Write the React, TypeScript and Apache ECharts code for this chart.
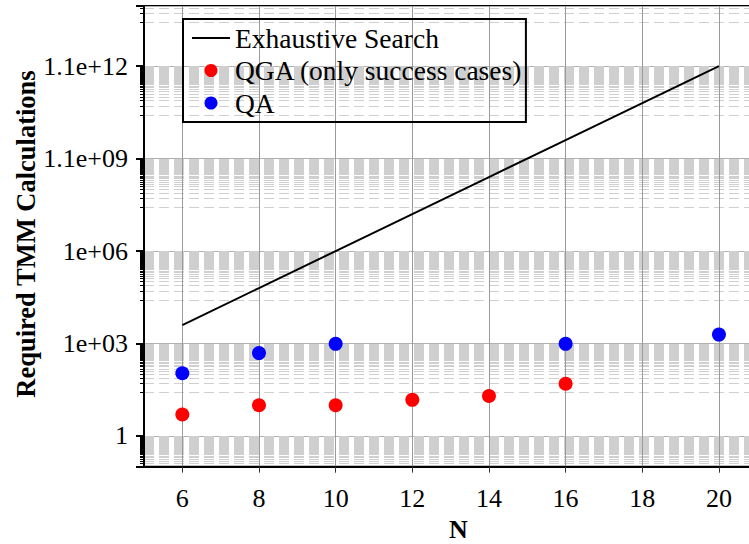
import React, { useEffect, useRef } from "react";
import * as echarts from "echarts";

// ---- data ----
const exhaustiveN = [6, 8, 10, 12, 14, 16, 18, 20];
const exhaustiveValues = [
  4096, 65536, 1048576, 16777216, 268435456, 4294967296, 68719476736,
  1099511627776,
];
const qgaN = [6, 8, 10, 12, 14, 16];
const qgaValues = [5, 10, 10, 15, 20, 50];
const qaN = [6, 8, 10, 16, 20];
const qaValues = [110, 500, 1000, 1000, 2000];

const seriesNames = ["Exhaustive Search", "QGA (only success cases)", "QA"];
const xAxisName = "N";
const yAxisName = "Required TMM Calculations";

const FONT = "Liberation Serif";

function formatG2(v: number): string {
  if (v === 0) return "0";
  let e = Math.floor(Math.log10(Math.abs(v)) + 1e-9);
  if (e < -4 || e >= 2) {
    let ms = (v / Math.pow(10, e)).toFixed(1);
    if (parseFloat(ms) >= 10) {
      e += 1;
      ms = (v / Math.pow(10, e)).toFixed(1);
    }
    ms = ms.replace(/\.0$/, "");
    const es = (e < 0 ? "-" : "+") + String(Math.abs(e)).padStart(2, "0");
    return ms + "e" + es;
  }
  return String(parseFloat(v.toPrecision(2)));
}

export default function App() {
  const ref = useRef<HTMLDivElement>(null);

  useEffect(() => {
    document.body.style.margin = "0";
    if (!ref.current) return;
    const chart = echarts.init(ref.current, undefined, { renderer: "svg" });
    const zip = (xs: number[], ys: number[]) => xs.map((x, i) => [x, ys[i]]);

    chart.setOption({
      animation: false,
      backgroundColor: "#ffffff",
      textStyle: { fontFamily: FONT },
      grid: {
        left: 144,
        top: 6,
        width: 628.6,
        height: 460.7,
        show: true,
        borderColor: "#000000",
        borderWidth: 2,
        containLabel: false,
        outerBoundsMode: "none",
      },
      graphic: [
        {
          type: "text",
          x: 26,
          y: 234,
          rotation: Math.PI / 2,
          style: {
            text: yAxisName,
            fontFamily: FONT,
            fontSize: 26.5,
            fontWeight: "bold",
            fill: "#000000",
            align: "center",
            verticalAlign: "middle",
            textAlign: "center",
            textVerticalAlign: "middle",
          },
        },
      ],
      legend: {
        orient: "vertical",
        left: 183,
        top: 19,
        padding: [5, 3, 5, 8],
        itemGap: 4.5,
        itemWidth: 38,
        itemHeight: 13,
        borderColor: "#000000",
        borderWidth: 2,
        backgroundColor: "transparent",
        textStyle: { fontFamily: FONT, fontSize: 27.5, color: "#000000" },
        data: [
          { name: seriesNames[0], itemStyle: { opacity: 0 } },
          { name: seriesNames[1] },
          { name: seriesNames[2] },
        ],
      },
      xAxis: {
        type: "value",
        min: 5,
        max: 21.4,
        splitNumber: 8,
        name: xAxisName,
        nameLocation: "middle",
        nameGap: 55,
        nameTextStyle: {
          fontFamily: FONT,
          fontSize: 26,
          lineHeight: 14,
          fontWeight: "bold",
          color: "#000000",
        },
        axisLine: { show: true, onZero: false, lineStyle: { color: "#000000", width: 2 } },
        axisTick: { show: true, inside: false, length: 6, lineStyle: { color: "#333333", width: 1 } },
        axisLabel: {
          showMinLabel: false,
          showMaxLabel: false,
          margin: 19,
          fontFamily: FONT,
          fontSize: 26,
          color: "#000000",
        },
        splitLine: { show: true, lineStyle: { color: "#9a9a9a", width: 1 } },
      },
      yAxis: {
        type: "log",
        logBase: 2,
        min: 0.1,
        max: 1e14,
        splitNumber: 5,
        axisLine: { show: true, lineStyle: { color: "#000000", width: 2 } },
        axisTick: { show: true, inside: false, length: 8, lineStyle: { color: "#000000", width: 2 } },
        minorTick: { show: true, splitNumber: 40, length: 4, lineStyle: { color: "#000000", width: 1 } },
        axisLabel: {
          showMinLabel: false,
          showMaxLabel: false,
          margin: 16,
          fontFamily: FONT,
          fontSize: 26,
          color: "#000000",
          formatter: (v: number) => formatG2(v),
        },
        splitLine: { show: true, lineStyle: { color: "#b0b0b0", width: 1 } },
        minorSplitLine: { show: true, lineStyle: { color: "#cfcfcf", width: 1, type: [10, 5] } },
      },
      series: [
        {
          name: seriesNames[0],
          type: "line",
          data: zip(exhaustiveN, exhaustiveValues),
          showSymbol: false,
          symbol: "none",
          lineStyle: { color: "#000000", width: 2 },
          itemStyle: { color: "#000000" },
          z: 3,
        },
        {
          name: seriesNames[1],
          type: "scatter",
          data: zip(qgaN, qgaValues),
          symbol: "circle",
          symbolSize: 14,
          itemStyle: { color: "#ff0000", opacity: 1 },
          z: 4,
        },
        {
          name: seriesNames[2],
          type: "scatter",
          data: zip(qaN, qaValues),
          symbol: "circle",
          symbolSize: 14,
          itemStyle: { color: "#0000ff", opacity: 1 },
          z: 4,
        },
      ],
    });

    return () => chart.dispose();
  }, []);

  return <div ref={ref} style={{ width: 749, height: 544 }} />;
}
